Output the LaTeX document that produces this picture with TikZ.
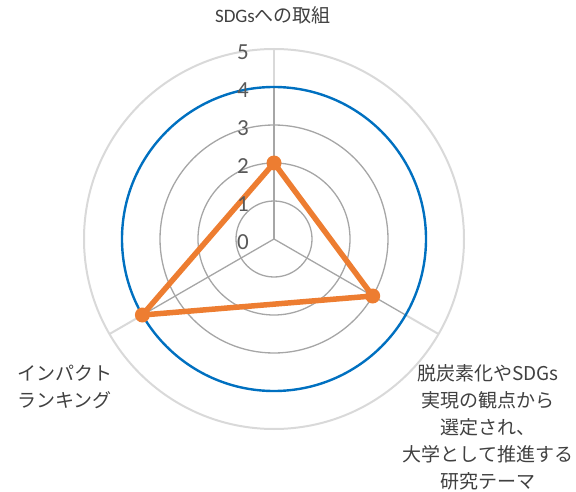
\documentclass[tikz,border=0pt]{standalone}
\usepackage{fontspec}
\setmainfont{Carlito}
\newfontfamily\cjk{Noto Sans CJK JP}
\definecolor{gridd}{HTML}{A6A6A6}
\definecolor{gridl}{HTML}{D9D9D9}
\definecolor{serblue}{HTML}{0070C0}
\definecolor{serorange}{HTML}{ED7D31}
\definecolor{txt}{HTML}{404040}
\definecolor{numtxt}{HTML}{595959}
\tikzset{
  gridin/.style={draw=gridd, line width=1.3pt},
  gridout/.style={draw=gridl, line width=2pt},
  bluering/.style={draw=serblue, line width=2.4pt},
  datapoly/.style={draw=serorange, line width=5.5pt, line join=round},
  datamark/.style={circle, fill=serorange, inner sep=0pt, minimum size=15pt},
  numlab/.style={anchor=east, text=numtxt, font=\fontsize{23}{23}\selectfont, inner sep=0pt},
  axlab/.style={text=txt, font=\fontsize{19}{25}\selectfont, inner sep=0pt}
}
\begin{document}
\begin{tikzpicture}[x=1pt,y=-1pt]
\useasboundingbox (0,0) rectangle (576,492);
\coordinate (C) at (274,239);
% axis end points
\coordinate (T4) at (274,87);
\coordinate (T5) at (274,49);
\coordinate (R4) at (405.6,315);
\coordinate (R5) at (438.5,334);
\coordinate (L4) at (142.4,315);
\coordinate (L5) at (109.5,334);
% grid circles
\foreach \k in {1,2,3} { \draw[gridin] (C) circle[radius=38*\k]; }
\draw[gridout] (C) circle[radius=190];
% axes
\draw[gridin] (C) -- (T4); \draw[gridin] (C) -- (R4); \draw[gridin] (C) -- (L4);
\draw[gridout] (T4) -- (T5); \draw[gridout] (R4) -- (R5); \draw[gridout] (L4) -- (L5);
% blue ring
\draw[bluering] (C) circle[radius=152];
% data
\coordinate (P1) at (274,163);
\coordinate (P2) at (372.7,296);
\coordinate (P3) at (142.4,315);
\draw[datapoly] (P1) -- (P2) -- (P3) -- cycle;
\node[datamark] (m1) at (P1) {};
\node[datamark] (m2) at (P2) {};
\node[datamark] (m3) at (P3) {};
% scale numbers
\foreach \k in {0,...,5} { \node[numlab] (n\k) at (249,242-38*\k) {\k}; }
% axis labels
\node[axlab, anchor=center] (lt) at (273,15) {SDGs\cjk{への取組}};
\node[axlab, anchor=north west, align=left] (ll) at (17,365) {\cjk{インパクト}\\[1.5pt]\cjk{ランキング}};
\node[axlab, anchor=north, align=center] (lr) at (488,364) {\cjk{脱炭素化や}SDGs\\[2pt]\cjk{実現の観点から}\\[2pt]\cjk{選定され、}\\[2pt]\cjk{大学として推進する}\\[2pt]\cjk{研究テーマ}};
\end{tikzpicture}
\end{document}
